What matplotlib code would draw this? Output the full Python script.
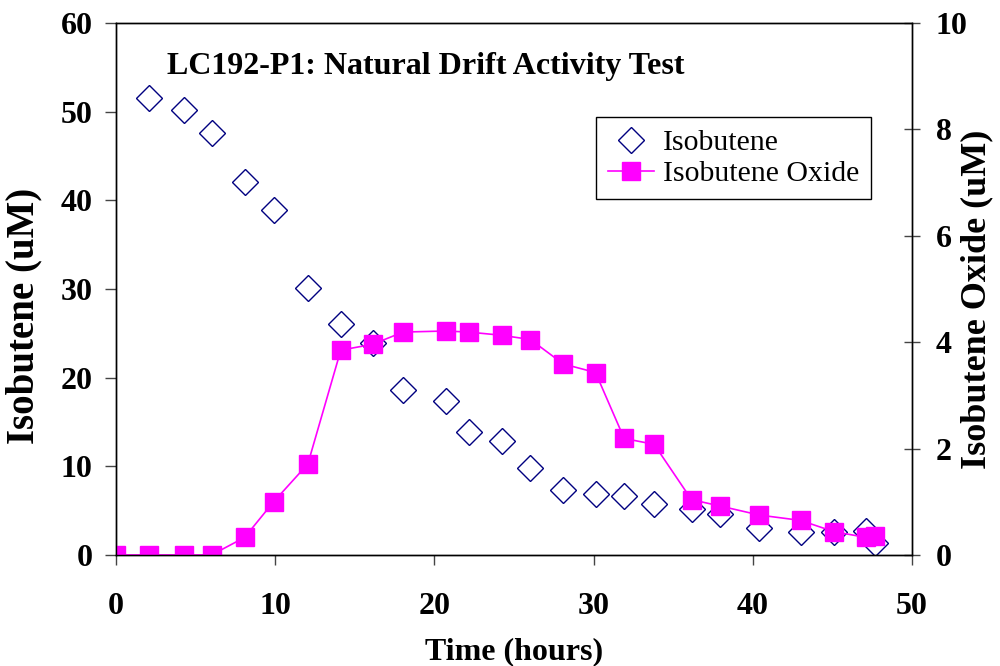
import matplotlib
matplotlib.use("Agg")
import matplotlib.pyplot as plt
import numpy as np

# sampling times (hours)
time_h = [0.0, 2.05, 4.3, 6.0, 8.08, 9.9, 12.05, 14.12, 16.12, 18.03, 20.7, 22.15,
          24.22, 26.03, 28.1, 30.12, 31.92, 33.8, 36.15, 37.95, 40.42, 43.0, 45.08, 47.1, 47.7]

# isobutene (uM), no reading at t = 0
isobutene = [np.nan, 51.5, 50.2, 47.6, 42.1, 38.9, 30.1, 26.0, 23.9, 18.6, 17.4, 13.9,
             12.9, 9.8, 7.3, 6.9, 6.7, 5.8, 5.2, 4.6, 3.0, 2.6, 2.6, 2.7, 1.4]

# isobutene oxide (uM)
isobutene_oxide = [0.0, 0.0, 0.0, 0.0, 0.33, 1.0, 1.71, 3.85, 3.96, 4.19, 4.21, 4.19,
                   4.13, 4.05, 3.59, 3.43, 2.19, 2.08, 1.04, 0.92, 0.75, 0.65, 0.44, 0.33, 0.36]

plt.rcParams["font.family"] = ["Liberation Serif", "DejaVu Serif"]
plt.rcParams["font.size"] = 23

fig = plt.figure(figsize=(10, 6.66), dpi=100)
ax = fig.add_axes([0.116, 0.1667, 0.796, 0.7988])
ax2 = ax.twinx()

h1, = ax.plot(time_h, isobutene, linestyle="none", marker="D", markersize=13,
              markerfacecolor="none", markeredgecolor="#000080", markeredgewidth=1.0,
              label="Isobutene")
h2, = ax2.plot(time_h, isobutene_oxide, color="#FF00FF", linewidth=1.2, marker="s",
               markersize=12.5, markerfacecolor="#FF00FF", markeredgecolor="#FF00FF",
               label="Isobutene Oxide")

ax.set_xlim(0, 50)
ax.set_ylim(0, 60)
ax2.set_ylim(0, 10)
ax.set_xticks(np.arange(0, 51, 10))
ax.set_yticks(np.arange(0, 61, 10))
ax2.set_yticks(np.arange(0, 11, 2))

for a in (ax, ax2):
    for s in a.spines.values():
        s.set_linewidth(1.0)
        s.set_color("black")

ax.tick_params(axis="x", direction="out", length=7, width=1, pad=20, color="#444444")
ax.tick_params(axis="y", direction="out", length=8, width=1, pad=9, color="#444444")
ax2.tick_params(axis="y", direction="inout", length=12, width=1, pad=11, color="#444444")

for lab in ax.get_xticklabels() + ax.get_yticklabels() + ax2.get_yticklabels():
    lab.set_fontweight("bold")

# vertical axis titles are set a bit larger than the rest
ax.set_xlabel("Time (hours)", fontweight="bold")
ax.set_ylabel("Isobutene (uM)", fontweight="bold", fontsize=28)
ax2.set_ylabel("Isobutene Oxide (uM)", fontweight="bold", fontsize=26)
ax.xaxis.set_label_coords(0.5, -0.155)
ax.yaxis.set_label_coords(-0.093, 0.45)
ax2.yaxis.set_label_coords(1.061, 0.48)

ax.text(0.064, 0.9036, "LC192-P1: Natural Drift Activity Test", transform=ax.transAxes,
        fontweight="bold", ha="left", va="baseline")

leg = ax2.legend(handles=[h1, h2], loc="upper right", bbox_to_anchor=(0.9485, 0.823),
                 borderaxespad=0, fancybox=False, framealpha=1, edgecolor="black",
                 handlelength=1.55, handletextpad=0.3, labelspacing=0.15, borderpad=0.4,
                 fontsize=21.5)
leg.get_frame().set_linewidth(1.0)

fig.savefig("out.png", dpi=100)
